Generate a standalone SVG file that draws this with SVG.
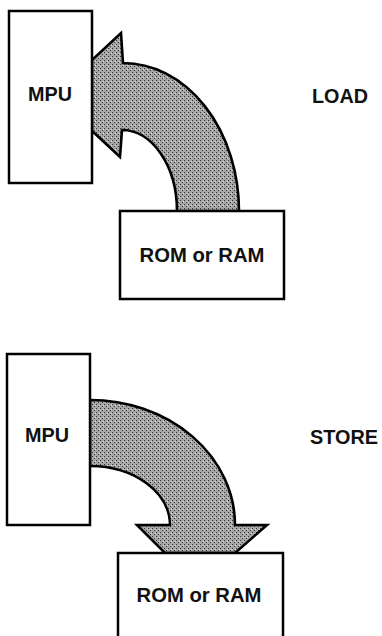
<svg xmlns="http://www.w3.org/2000/svg" width="382" height="636" viewBox="0 0 382 636">
<defs>
<pattern id="stip" width="4" height="4" patternUnits="userSpaceOnUse">
<rect width="4" height="4" fill="#a6a6a6"/>
<rect x="0" y="0" width="1" height="1" fill="#333"/>
<rect x="2" y="2" width="1" height="1" fill="#333"/>
<rect x="3" y="1" width="1" height="1" fill="#e0e0e0"/>
</pattern>
</defs>
<style>
.box{fill:#fff;stroke:#000;stroke-width:2.5}
.arrow{fill:url(#stip);stroke:#000;stroke-width:2.6;stroke-linejoin:miter}
.lbl{font-family:"Liberation Sans",Arial,sans-serif;font-weight:bold;font-size:19.5px;fill:#111}
</style>
<rect width="382" height="636" fill="#fff"/>
<g id="connectors">
<path class="arrow" d="M 239 211 A 116 148 0 0 0 123 63 L 121 33 L 92 60 L 92 131 L 120 157 L 122 130 A 55 81 0 0 1 177 211 Z"/>
<path class="arrow" d="M 90 400 A 145 125 0 0 1 235 525 L 267 525 L 235 553 L 165 553 L 137 525 L 170 525 A 80 59 0 0 0 90 466 Z"/>
</g>
<g id="mpu-load">
<rect class="box" x="9" y="11" width="83" height="172"/>
<text class="lbl" x="50" y="101" text-anchor="middle" textLength="44" lengthAdjust="spacingAndGlyphs">MPU</text>
</g>
<g id="mem-load">
<rect class="box" x="120" y="211" width="164" height="88"/>
<text class="lbl" x="202" y="262" text-anchor="middle" textLength="125" lengthAdjust="spacingAndGlyphs">ROM or RAM</text>
</g>
<g id="label-load">
<text class="lbl" x="312" y="103" textLength="56" lengthAdjust="spacingAndGlyphs">LOAD</text>
</g>
<g id="mpu-store">
<rect class="box" x="7" y="354" width="83" height="171"/>
<text class="lbl" x="47" y="442" text-anchor="middle" textLength="44" lengthAdjust="spacingAndGlyphs">MPU</text>
</g>
<g id="mem-store">
<rect class="box" x="118" y="553" width="165" height="95"/>
<text class="lbl" x="199" y="602" text-anchor="middle" textLength="125" lengthAdjust="spacingAndGlyphs">ROM or RAM</text>
</g>
<g id="label-store">
<text class="lbl" x="310" y="444" textLength="68" lengthAdjust="spacingAndGlyphs">STORE</text>
</g>
</svg>
